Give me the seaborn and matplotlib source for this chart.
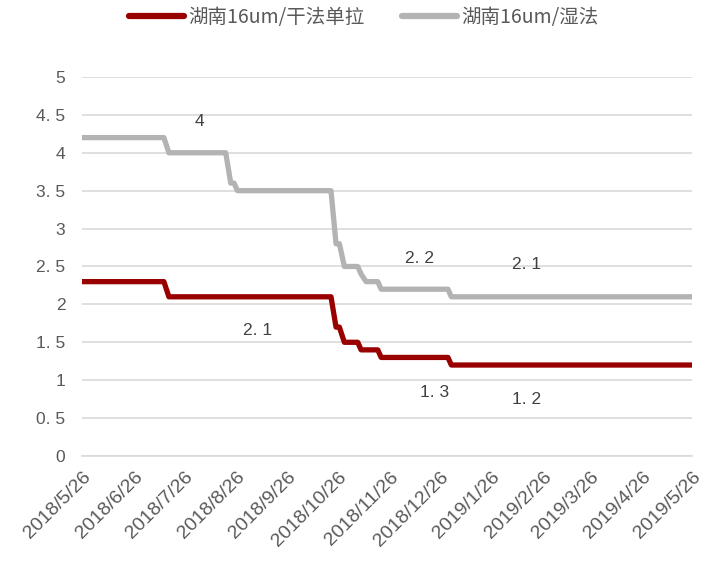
import matplotlib
matplotlib.use("Agg")
import matplotlib.pyplot as plt
import seaborn as sns
import pandas as pd

sns.set_theme(style="white")
plt.rcParams['font.family'] = ['Noto Sans CJK SC', 'DejaVu Sans']

# change-point dates and values
dates = ["2018-05-26", "2018-07-14", "2018-07-17", "2018-08-20", "2018-08-23",
         "2018-08-25", "2018-08-27", "2018-10-22", "2018-10-25", "2018-10-27",
         "2018-10-30", "2018-11-07", "2018-11-09", "2018-11-12", "2018-11-19",
         "2018-11-21", "2018-12-31", "2019-01-02", "2019-05-26"]
dry = [2.3, 2.3, 2.1, 2.1, 2.1, 2.1, 2.1, 2.1, 1.7, 1.7,
       1.5, 1.5, 1.4, 1.4, 1.4, 1.3, 1.3, 1.2, 1.2]
wet = [4.2, 4.2, 4.0, 4.0, 3.6, 3.6, 3.5, 3.5, 2.8, 2.8,
       2.5, 2.5, 2.4, 2.3, 2.3, 2.2, 2.2, 2.1, 2.1]
series_names = ["湖南16um/干法单拉", "湖南16um/湿法"]
colors = ["#990000", "#b3b3b3"]

tick_dates = ["2018-05-26", "2018-06-26", "2018-07-26", "2018-08-26", "2018-09-26",
              "2018-10-26", "2018-11-26", "2018-12-26", "2019-01-26", "2019-02-26",
              "2019-03-26", "2019-04-26", "2019-05-26"]
tick_labels = ["2018/5/26", "2018/6/26", "2018/7/26", "2018/8/26", "2018/9/26",
               "2018/10/26", "2018/11/26", "2018/12/26", "2019/1/26", "2019/2/26",
               "2019/3/26", "2019/4/26", "2019/5/26"]
y_ticks = [0, 0.5, 1, 1.5, 2, 2.5, 3, 3.5, 4, 4.5, 5]
y_labels = ["0", "0. 5", "1", "1. 5", "2", "2. 5", "3", "3. 5", "4", "4. 5", "5"]

ann_dates = ["2018-08-04", "2018-12-14", "2019-02-16", "2018-09-08", "2018-12-23", "2019-02-16"]
ann_text = ["4", "2. 2", "2. 1", "2. 1", "1. 3", "1. 2"]
ann_y = [4.41, 2.61, 2.52, 1.66, 0.84, 0.75]

df = pd.DataFrame({"date": pd.to_datetime(dates * 2),
                   "value": dry + wet,
                   "series": [series_names[0]] * len(dates) + [series_names[1]] * len(dates)})

fig = plt.figure(figsize=(7.1, 5.74), dpi=100)
ax = fig.add_axes([0.1155, 0.2056, 0.8591, 0.6603])
sns.lineplot(data=df, x="date", y="value", hue="series", palette=colors,
             linewidth=3.8, ax=ax, legend=True)

tick_font = ['Liberation Sans', 'DejaVu Sans']
ax.set_xlim(pd.Timestamp("2018-05-26"), pd.Timestamp("2019-05-26"))
ax.set_ylim(0, 5)
ax.set_yticks(y_ticks)
ax.set_yticklabels(y_labels, family=tick_font)
ax.set_xticks(pd.to_datetime(tick_dates))
ax.set_xticklabels(tick_labels, rotation=45, ha="right", rotation_mode="anchor",
                   family=tick_font)
ax.set_xlabel("")
ax.set_ylabel("")
ax.yaxis.grid(True, color="#d9d9d9", linewidth=1.2)
ax.set_axisbelow(True)
for s in ["left", "right", "top"]:
    ax.spines[s].set_visible(False)
ax.spines["bottom"].set_color("#d9d9d9")
ax.spines["bottom"].set_linewidth(1.2)
ax.tick_params(axis="x", colors="#d9d9d9", length=5, width=1.2, labelcolor="#595959",
               labelsize=14, pad=4)
ax.tick_params(axis="y", length=0, labelcolor="#595959", labelsize=12.5, pad=12)

for d, t, yv in zip(ann_dates, ann_text, ann_y):
    ax.text(pd.Timestamp(d), yv, t, ha="center", va="center", fontsize=12.5,
            color="#404040", family=tick_font)

leg = ax.legend(loc="center", bbox_to_anchor=(0.462, 1.158), ncol=2, frameon=False,
                fontsize=14, handlelength=2.83, columnspacing=1.9, handletextpad=0.25)
for txt in leg.get_texts():
    txt.set_color("#595959")
for ln in leg.get_lines():
    ln.set_linewidth(4.5)

fig.savefig("out.png", dpi=100)
